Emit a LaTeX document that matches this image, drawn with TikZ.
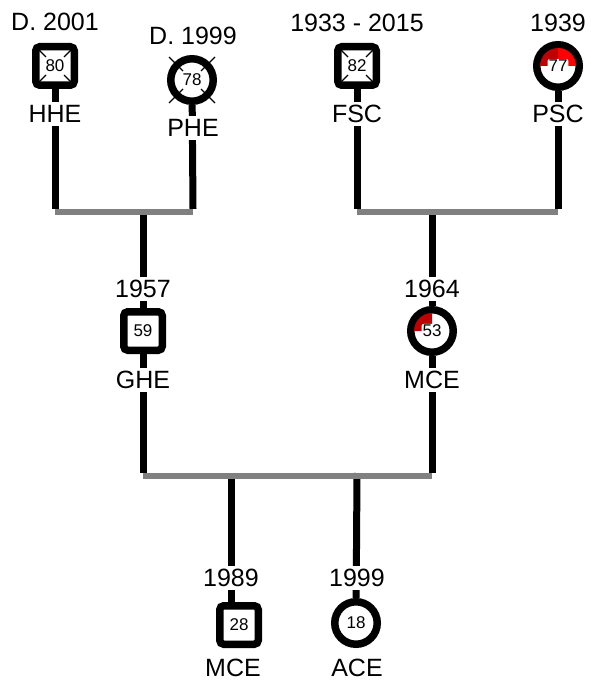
\documentclass[tikz,border=0pt]{standalone}
\usepackage{fontspec}
\setmainfont{Liberation Sans}
\usetikzlibrary{backgrounds}
\definecolor{barg}{RGB}{128,128,128}
\definecolor{dred}{RGB}{192,0,0}
\definecolor{bred}{RGB}{255,0,0}
\begin{document}
\begin{tikzpicture}[x=1pt,y=-1pt,
  lbl/.style={font=\fontsize{25}{28}\selectfont, fill=white, inner sep=3pt},
  num/.style={font=\fontsize{17}{19}\selectfont, fill=white, inner sep=1pt, rounded corners=2pt},
  sqp/.style={draw, line width=7.5pt, rounded corners=4pt, minimum size=38.5pt, fill=white, inner sep=0pt},
  cip/.style={draw, circle, line width=7.5pt, minimum size=42.5pt, fill=white, inner sep=0pt},
  stem/.style={line width=7pt},
  bar/.style={line width=6pt, draw=barg},
  xmark/.style={line width=1.2pt}]
\useasboundingbox (0,0) rectangle (590,682);
% person symbols
\node[sqp] (hhe) at (55,66) {};
\node[cip] (phe) at (192,80) {};
\node[sqp] (fsc) at (357,66) {};
\node[cip] (psc) at (558,66) {};
\node[sqp] (ghe) at (143,331) {};
\node[cip] (mce) at (432,331) {};
\node[sqp] (mce2) at (239,625) {};
\node[cip] (ace) at (356,623) {};
% red fills
\fill[dred] (psc.center) -- ++(-18,0) arc[start angle=180,end angle=270,radius=18] -- cycle;
\fill[bred] (psc.center) -- ++(0,-18) arc[start angle=270,end angle=360,radius=18] -- cycle;
\fill[dred] (mce.center) -- ++(-18,0) arc[start angle=180,end angle=270,radius=18] -- cycle;
% deceased marks
\foreach \p in {hhe,fsc}{
  \foreach \sx/\sy in {1/1,1/-1,-1/1,-1/-1}{
    \draw[xmark] ([shift={(18*\sx,18*\sy)}]\p.center) -- ([shift={(9*\sx,9*\sy)}]\p.center);
  }
}
\foreach \sx/\sy in {1/1,1/-1,-1/1,-1/-1}{
  \draw[xmark] ([shift={(23*\sx,23*\sy)}]phe.center) -- ([shift={(9*\sx,9*\sy)}]phe.center);
}
% numbers
\node[num] (hhe-n) at (hhe) {80};
\node[num] (phe-n) at (phe) {78};
\node[num] (fsc-n) at (fsc) {82};
\node[num] (psc-n) at (psc) {77};
\node[num] (ghe-n) at (ghe) {59};
\node[num] (mce-n) at (mce) {53};
\node[num] (mce2-n) at (mce2) {28};
\node[num] (ace-n) at (ace) {18};
% labels
\node[lbl] (hhe-y) at (55,22) {D. 2001};
\node[lbl] (hhe-l) at (55,114) {HHE};
\node[lbl] (phe-y) at (193,36) {D. 1999};
\node[lbl] (phe-l) at (193,128) {PHE};
\node[lbl] (fsc-y) at (357,23) {1933 - 2015};
\node[lbl] (fsc-l) at (357,114) {FSC};
\node[lbl] (psc-y) at (558,23) {1939};
\node[lbl] (psc-l) at (558,114) {PSC};
\node[lbl] (ghe-y) at (143,289) {1957};
\node[lbl] (ghe-l) at (143,380) {GHE};
\node[lbl] (mce-y) at (432,289) {1964};
\node[lbl] (mce-l) at (432,380) {MCE};
\node[lbl] (mce2-y) at (231,578) {1989};
\node[lbl] (mce2-l) at (233,668) {MCE};
\node[lbl] (ace-y) at (357,578) {1999};
\node[lbl] (ace-l) at (357,668) {ACE};
% bar coordinates
\coordinate (b1l) at (55,209);
\coordinate (b1r) at (193,209);
\coordinate (b1c) at (143,209);
\coordinate (b2l) at (357,209);
\coordinate (b2r) at (558,209);
\coordinate (b2c) at (432,209);
\coordinate (b3l) at (143,473);
\coordinate (b3r) at (432,473);
\coordinate (b3a) at (231,473);
\coordinate (b3b) at (357,473);
\begin{pgfonlayer}{background}
\draw[stem] (hhe) -- (b1l);
\draw[stem] (phe) -- (b1r);
\draw[stem] (fsc) -- (b2l);
\draw[stem] (psc) -- (b2r);
\draw[stem] (b1c) -- (ghe);
\draw[stem] (b2c) -- (mce);
\draw[stem] (ghe) -- (b3l);
\draw[stem] (mce) -- (b3r);
\draw[stem] (b3a) -- (b3a |- mce2);
\draw[stem] (b3b) -- (ace);
\end{pgfonlayer}
% sibling/couple bars
\draw[bar] ([yshift=-3]b1l) -- ([yshift=-3]b1r);
\draw[bar] ([yshift=-3]b2l) -- ([yshift=-3]b2r);
\draw[bar] ([yshift=-3]b3l) -- ([yshift=-3]b3r);
\end{tikzpicture}
\end{document}
